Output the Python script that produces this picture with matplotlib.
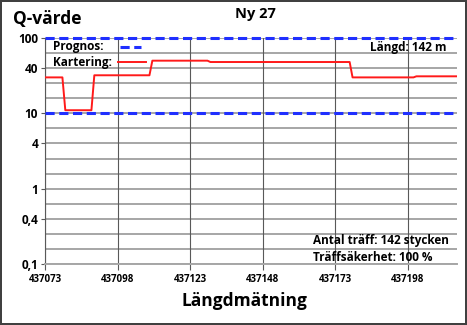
import numpy as np
import matplotlib
matplotlib.use('Agg')
import matplotlib.pyplot as plt
from matplotlib.ticker import FixedLocator, NullFormatter

plt.rcParams['font.family'] = ['Open Sans', 'DejaVu Sans']

# Kartering (Q-value along the chainage)
pos = [437073, 437079, 437080, 437089, 437090, 437109, 437110, 437129, 437130,
       437178, 437179, 437200, 437201, 437215]
q = [30, 30, 11, 11, 32, 32, 50, 50, 48, 48, 30, 30, 31, 31]

# Prognos limits
prognos = [100, 10]

x_ticks = [437073, 437098, 437123, 437148, 437173, 437198]
y_ticks = [0.1, 0.4, 1, 4, 10, 40, 100]
y_ticklabels = ['0,1', '0,4', '1', '4', '10', '40', '100']

BLUE = '#1f2fff'
RED = '#ff1a1a'
DASH = (0, (3, 1.5))

fig = plt.figure(figsize=(4.67, 3.25), dpi=100)
fig.patch.set_edgecolor('#404040')
fig.patch.set_linewidth(1.5)
ax = fig.add_axes([45/467, 1-264/325, (457-45)/467, (264-38)/325])

ax.set_yscale('log')
ax.set_ylim(0.1, 100)
ax.set_xlim(pos[0], pos[-1])

# grid: horizontal every 0.2 decades, vertical at x ticks
minor = [10 ** (-1 + 0.2 * k) for k in range(16)]
ax.yaxis.set_minor_locator(FixedLocator(minor))
ax.yaxis.set_minor_formatter(NullFormatter())
ax.set_yticks(y_ticks)
ax.set_yticklabels(y_ticklabels, fontsize=8.5, fontweight='bold')
ax.set_xticks(x_ticks)
ax.set_xticklabels([str(t) for t in x_ticks], fontsize=7, fontweight='bold')
for y in minor:
    ax.axhline(y, color='#a6a6a6', lw=1.4, zorder=1)
for x in x_ticks:
    ax.axvline(x, color='#595959', lw=0.8, zorder=1)
ax.tick_params(axis='y', which='minor', length=0)
ax.tick_params(axis='y', which='major', length=3, color='#595959', pad=2)
ax.tick_params(axis='x', length=4, direction='out', color='#595959', pad=3)

for s in ['top', 'right']:
    ax.spines[s].set_visible(False)
ax.spines['left'].set_color('#595959')
ax.spines['bottom'].set_color('#a6a6a6')
ax.spines['bottom'].set_linewidth(1.4)

for p in prognos:
    ax.axhline(p, color=BLUE, lw=2.2, ls=DASH, zorder=3, clip_on=False)
ax.plot(pos, q, color=RED, lw=1.4, zorder=4)

# legend: label first, key after, both rows left aligned
ax.text(0.019, 0.962, 'Prognos:', transform=ax.transAxes, ha='left', va='center',
        fontsize=8.5, fontweight='bold', zorder=5)
ax.plot([0.182, 0.232], [0.960, 0.960], transform=ax.transAxes, color=BLUE,
        lw=2.2, ls=DASH, zorder=5)
ax.text(0.019, 0.891, 'Kartering:', transform=ax.transAxes, ha='left', va='center',
        fontsize=8.5, fontweight='bold', zorder=5)
ax.plot([0.177, 0.245], [0.894, 0.894], transform=ax.transAxes, color=RED,
        lw=1.4, zorder=5)

ax.text(0.975, 0.96, 'Längd: 142 m', transform=ax.transAxes, ha='right', va='center',
        fontsize=8.5, fontweight='bold')
ax.text(0.65, 0.104, 'Antal träff: 142 stycken', transform=ax.transAxes,
        ha='left', va='center', fontsize=8.5, fontweight='bold')
ax.text(0.65, 0.030, 'Träffsäkerhet: 100 %', transform=ax.transAxes,
        ha='left', va='center', fontsize=8.5, fontweight='bold')

fig.text(13/467, 1-19/325, 'Q-värde', ha='left', va='center', fontsize=12.5, fontweight='bold')
fig.text(255/467, 1-14/325, 'Ny 27', ha='center', va='center', fontsize=10.5, fontweight='bold')
fig.text(244/467, 1-301/325, 'Längdmätning', ha='center', va='center', fontsize=12.5,
         fontweight='bold')

fig.savefig('out.png', dpi=100)
